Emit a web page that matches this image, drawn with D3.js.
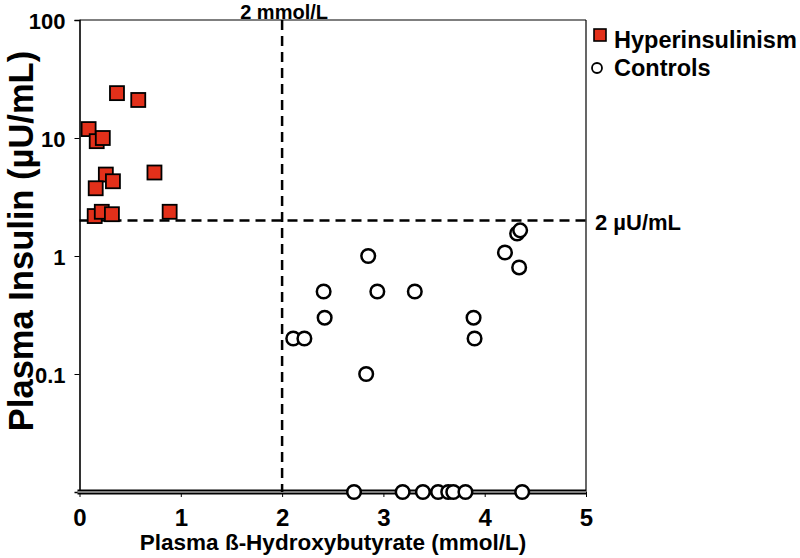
<!DOCTYPE html>
<html><head><meta charset="utf-8">
<script src="https://cdn.jsdelivr.net/npm/d3@7"></script>
<style>
html,body{margin:0;padding:0;background:#fff;}
text{font-family:"Liberation Sans",Arial,sans-serif;font-weight:bold;fill:#000;}
</style></head>
<body><svg id="c" width="800" height="558"></svg>
<script>
// Hyperinsulinism (x: BOHB mmol/L, y: insulin µU/mL)
const hyperX = [0.37, 0.58, 0.09, 0.17, 0.23, 0.26, 0.33, 0.16, 0.74, 0.15, 0.22, 0.32, 0.89];
const hyperY = [24, 21, 11.9, 9.4, 10, 4.9, 4.3, 3.75, 5.1, 2.18, 2.37, 2.26, 2.37];
// Controls (0 = below detection, plotted on the axis)
const ctrlX = [2.85, 2.41, 2.94, 3.31, 2.42, 2.11, 2.22, 2.83, 3.89, 3.90, 4.20, 4.34, 4.32, 4.35,
               2.71, 3.19, 3.39, 3.54, 3.64, 3.69, 3.81, 4.37];
const ctrlY = [1.0, 0.5, 0.5, 0.5, 0.3, 0.2, 0.2, 0.1, 0.3, 0.2, 1.07, 0.8, 1.55, 1.65,
               0, 0, 0, 0, 0, 0, 0, 0];
const xTicks = [0, 1, 2, 3, 4, 5];
const yTicks = [100, 10, 1, 0.1];
const bohbCut = 2, insulinCut = 2;

const svg = d3.select("#c");
const x = d3.scaleLinear().domain([0, 5]).range([79.5, 586]);
const y = d3.scaleLog().domain([0.01, 100]).range([492, 20]);
const yv = v => y(v <= 0 ? 0.01 : v);

// frame
svg.append("line").attr("x1", x(0)).attr("x2", x(5)).attr("y1", y(100)).attr("y2", y(100)).attr("stroke", "#000").attr("stroke-width", 1.2);
svg.append("line").attr("x1", x(5)).attr("x2", x(5)).attr("y1", y(100)).attr("y2", y(0.01)).attr("stroke", "#000").attr("stroke-width", 1.2);

// axes
const ya = svg.append("g").attr("transform", `translate(${x(0)},0)`)
  .call(d3.axisLeft(y).tickValues(yTicks).tickFormat(d => String(d)).tickSize(5).tickPadding(9));
ya.select(".domain").attr("stroke-width", 1.6);
ya.selectAll("text").style("font-size", "22px").attr("dy", "0.4em");
const xa = svg.append("g").attr("transform", `translate(0,${y(0.01)})`)
  .call(d3.axisBottom(x).tickValues(xTicks).tickFormat(d3.format("d")).tickSize(5).tickPadding(12));
xa.select(".domain").attr("stroke-width", 0);
xa.selectAll("text").style("font-size", "24px");
// double baseline
svg.append("rect").attr("x", x(0) - 2).attr("width", x(5) - x(0) + 2).attr("y", y(0.01) - 2.5).attr("height", 5).attr("fill", "#000");
svg.append("line").attr("x1", x(0) - 2).attr("x2", x(5)).attr("y1", y(0.01)).attr("y2", y(0.01)).attr("stroke", "#aaa").attr("stroke-width", 1.5);

// cutoff lines
svg.append("line").attr("x1", x(bohbCut)).attr("x2", x(bohbCut)).attr("y1", y(100)).attr("y2", y(0.01))
  .attr("stroke", "#000").attr("stroke-width", 2.5).attr("stroke-dasharray", "10,6");
svg.append("line").attr("x1", x(0)).attr("x2", x(5)).attr("y1", y(insulinCut)).attr("y2", y(insulinCut))
  .attr("stroke", "#000").attr("stroke-width", 2.5).attr("stroke-dasharray", "10,6");
svg.append("text").attr("x", x(bohbCut) + 2).attr("y", 19).attr("text-anchor", "middle").style("font-size", "20px").text("2 mmol/L");
svg.append("text").attr("x", 595).attr("y", y(insulinCut) + 10).style("font-size", "22px").text("2 µU/mL");

// controls
svg.append("g").selectAll("circle").data(ctrlX.map((d, i) => [d, ctrlY[i]])).join("circle")
  .attr("cx", d => x(d[0])).attr("cy", d => yv(d[1])).attr("r", 6.8)
  .attr("fill", "#fff").attr("stroke", "#000").attr("stroke-width", 2.5);
// hyperinsulinism
const s = 14;
svg.append("g").selectAll("rect").data(hyperX.map((d, i) => [d, hyperY[i]])).join("rect")
  .attr("x", d => x(d[0]) - s / 2).attr("y", d => yv(d[1]) - s / 2).attr("width", s).attr("height", s)
  .attr("fill", "#e2301a").attr("stroke", "#000").attr("stroke-width", 1.8);

// axis titles
svg.append("text").attr("x", 333).attr("y", 550).attr("text-anchor", "middle").style("font-size", "22.5px")
  .text("Plasma ß-Hydroxybutyrate (mmol/L)");
svg.append("text").attr("transform", "translate(33,241) rotate(-90)").attr("text-anchor", "middle").style("font-size", "34.5px")
  .text("Plasma Insulin (µU/mL)");

// legend
svg.append("rect").attr("x", 594).attr("y", 29).attr("width", 12).attr("height", 12).attr("fill", "#e2301a").attr("stroke", "#000").attr("stroke-width", 1.6);
svg.append("text").attr("x", 614).attr("y", 48).style("font-size", "23.5px").text("Hyperinsulinism");
svg.append("circle").attr("cx", 597).attr("cy", 68).attr("r", 5).attr("fill", "#fff").attr("stroke", "#000").attr("stroke-width", 1.8);
svg.append("text").attr("x", 614).attr("y", 76).style("font-size", "23.5px").text("Controls");
</script></body></html>
